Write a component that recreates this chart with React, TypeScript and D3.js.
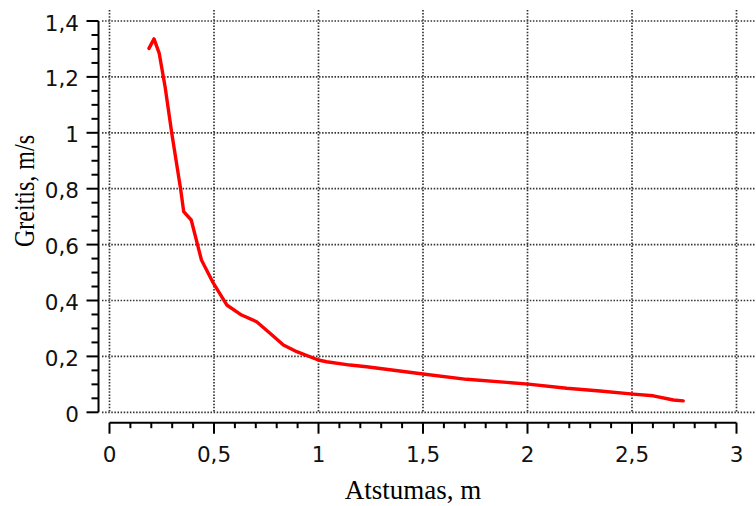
import React from "react";
import * as d3 from "d3";

// distance (m) and speed (m/s)
const distance = [0.189, 0.213, 0.238, 0.266, 0.298, 0.341, 0.355, 0.391, 0.44, 0.497, 0.561, 0.632, 0.704, 0.768, 0.832, 0.896, 0.999, 1.039, 1.151, 1.23, 1.5, 1.709, 2.004, 2.188, 2.347, 2.506, 2.602, 2.698, 2.745];
const speed = [1.302, 1.336, 1.284, 1.165, 0.998, 0.795, 0.718, 0.688, 0.545, 0.462, 0.384, 0.348, 0.324, 0.283, 0.241, 0.217, 0.187, 0.181, 0.169, 0.163, 0.137, 0.118, 0.101, 0.086, 0.076, 0.065, 0.059, 0.044, 0.041];

const xTicks = [0, 0.5, 1, 1.5, 2, 2.5, 3];
const xTickLabels = ["0", "0,5", "1", "1,5", "2", "2,5", "3"];
const yTicks = [0, 0.2, 0.4, 0.6, 0.8, 1, 1.2, 1.4];
const yTickLabels = ["0", "0,2", "0,4", "0,6", "0,8", "1", "1,2", "1,4"];

const W = 756, H = 506;

export default function App() {
  const x = d3.scaleLinear().domain([0, 3]).range([109.5, 736.5]);
  const y = d3.scaleLinear().domain([0, 1.4]).range([412.3, 21]);

  const line = d3.line<number>()
    .x((_, i) => x(distance[i]))
    .y((d) => y(d));

  const xMinor = d3.range(0, 31).map((i) => i / 10).filter((v) => Math.round(v * 10) % 5 !== 0);
  const yMinor = d3.range(0, 29).map((i) => i / 20).filter((v) => Math.round(v * 20) % 4 !== 0);

  const axisY = 98.5;     // y axis line position
  const axisX = 422.7;    // x axis line position

  return (
    <svg width={W} height={H} style={{ position: "absolute", left: 0, top: 0, background: "#fff" }}>
      {/* grid */}
      <g stroke="#333" strokeWidth={1.7} strokeDasharray="1.5 1.6">
        {xTicks.map((t) => (
          <line key={"gx" + t} x1={x(t)} x2={x(t)} y1={10} y2={y(0)} />
        ))}
        {yTicks.map((t) => (
          <line key={"gy" + t} x1={102} x2={W} y1={y(t)} y2={y(t)} />
        ))}
      </g>

      {/* y axis */}
      <g stroke="#000" strokeWidth={2}>
        <line x1={axisY} x2={axisY} y1={y(1.4)} y2={y(0)} />
        {yTicks.map((t) => (
          <line key={"yt" + t} x1={axisY - 12} x2={axisY} y1={y(t)} y2={y(t)} />
        ))}
        {yMinor.map((t) => (
          <line key={"ym" + t} x1={axisY - 7} x2={axisY} y1={y(t)} y2={y(t)} />
        ))}
      </g>
      <g fontFamily="DejaVu Sans, sans-serif" fontSize={21.5} fill="#111" textAnchor="end">
        {yTicks.map((t, i) => (
          <text key={"yl" + t} x={79} y={y(t) + 2} dominantBaseline="central">{yTickLabels[i]}</text>
        ))}
      </g>

      {/* x axis */}
      <g stroke="#000" strokeWidth={2}>
        <line x1={x(0)} x2={x(3)} y1={axisX} y2={axisX} />
        {xTicks.map((t) => (
          <line key={"xt" + t} x1={x(t)} x2={x(t)} y1={axisX} y2={axisX + 11} />
        ))}
        {xMinor.map((t) => (
          <line key={"xm" + t} x1={x(t)} x2={x(t)} y1={axisX} y2={axisX + 5.5} />
        ))}
      </g>
      <g fontFamily="DejaVu Sans, sans-serif" fontSize={21.5} fill="#111" textAnchor="middle">
        {xTicks.map((t, i) => (
          <text key={"xl" + t} x={x(t)} y={462}>{xTickLabels[i]}</text>
        ))}
      </g>

      {/* data */}
      <path d={line(speed) || ""} fill="none" stroke="#ff0000" strokeWidth={3.4} strokeLinejoin="round" strokeLinecap="round" />

      {/* axis titles */}
      <text x={413} y={499} textAnchor="middle" fontFamily="Liberation Serif, serif" fontSize={27} fill="#000">
        Atstumas, m
      </text>
      <text transform="translate(34,191) rotate(-90) scale(1,1.2)" textAnchor="middle" fontFamily="Liberation Serif, serif" fontSize={24} fill="#000">
        Greitis, m/s
      </text>
    </svg>
  );
}
